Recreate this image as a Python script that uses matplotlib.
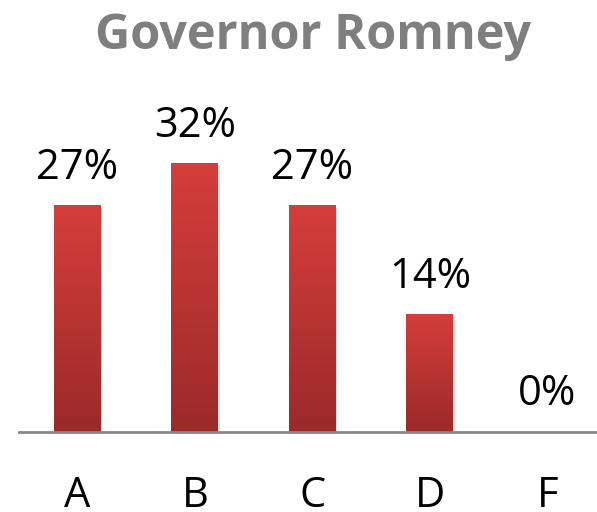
import matplotlib.pyplot as plt
import numpy as np
from matplotlib.colors import LinearSegmentedColormap

categories = ["A", "B", "C", "D", "F"]
percents = [27, 32, 27, 14, 0]

plt.rcParams['font.family'] = ['Open Sans', 'DejaVu Sans']

fig = plt.figure(figsize=(5.97, 5.12), dpi=100)
ax = fig.add_axes([0.0314, 0.156, 0.984, 0.656])

x = np.arange(len(categories))
bar_w = 0.4
bars = ax.bar(x, percents, width=bar_w, color="none", edgecolor="none", zorder=2)

# vertical red gradient inside each bar
grad = LinearSegmentedColormap.from_list("red", ["#9b2a29", "#d43e3b"])
column = np.linspace(0, 1, 256).reshape(-1, 1)
for b in bars:
    if b.get_height() <= 0:
        continue
    x0, w, h = b.get_x(), b.get_width(), b.get_height()
    # soft shadow to the right/below
    ax.bar(x0 + w / 2 + 0.012, h, width=w, bottom=-0.25, color="#000000",
           alpha=0.12, zorder=1)
    ax.imshow(column, cmap=grad, origin="lower", aspect="auto",
              extent=(x0, x0 + w, 0, h), zorder=3)

for xi, v in zip(x, percents):
    ax.annotate(f"{v}%", (xi, v), xytext=(0, 12), textcoords="offset points",
                ha="center", va="bottom", fontsize=30, color="#000000")

ax.set_xlim(-0.5, 4.5)
ax.set_ylim(0, 40.0)
ax.set_xticks(x)
ax.set_xticklabels(categories, fontsize=30)
ax.tick_params(axis="x", length=0, pad=31)
ax.set_yticks([])
for side in ["left", "right", "top"]:
    ax.spines[side].set_visible(False)
ax.spines["bottom"].set_color("#898989")
ax.spines["bottom"].set_linewidth(2)
ax.spines["bottom"].set_zorder(4)

fig.text(0.524, 0.928, "Governor Romney", ha="center", va="center",
         fontsize=35, fontweight="bold", color="#7f7f7f")

fig.savefig("out.png", dpi=100)
